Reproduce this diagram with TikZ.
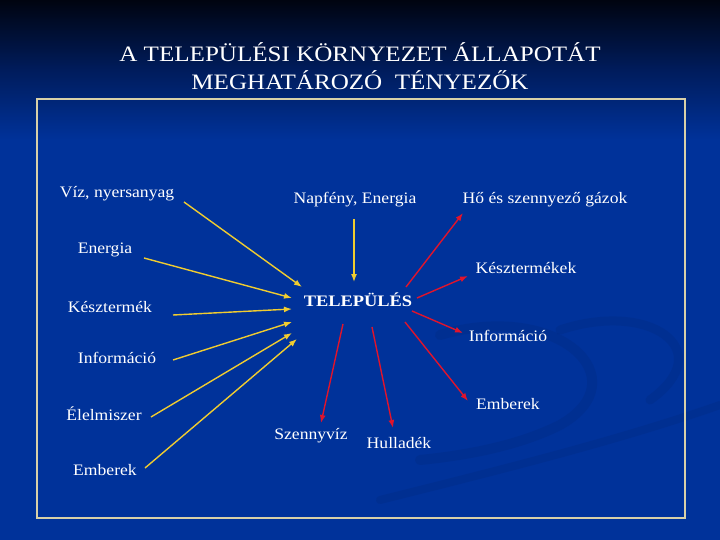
\documentclass[tikz,border=0pt]{standalone}
\usepackage{fontspec}
\setmainfont{Liberation Serif}
\usetikzlibrary{arrows.meta}
\definecolor{bgtop}{HTML}{000410}
\definecolor{bgmid}{HTML}{001C5C}
\definecolor{bgblue}{HTML}{00329A}
\definecolor{swirl}{HTML}{00246E}
\definecolor{framecol}{HTML}{D8D0A8}
\definecolor{inarrow}{HTML}{F0CC30}
\definecolor{outarrow}{HTML}{E0142C}
\tikzset{
  lbl/.style={text=white, font=\fontsize{16}{18}\selectfont, inner sep=0pt, xscale=1.1},
  titletext/.style={text=white, font=\fontsize{22}{24}\selectfont, inner sep=0pt, xscale=1.14},
  centre/.style={text=white, font=\bfseries\fontsize{16}{19}\selectfont, inner sep=0pt, xscale=1.15},
  inflow/.style={draw=inarrow, line width=1.4pt, -{Latex[length=8pt,width=6pt]}},
  outflow/.style={draw=outarrow, line width=1.4pt, -{Latex[length=8pt,width=6pt]}},
  swirlband/.style={draw=swirl, opacity=0.2, line cap=round}
}
\begin{document}
\begin{tikzpicture}[x=1pt,y=-1pt]
\useasboundingbox (0,0) rectangle (720,540);
% background
\fill[bgblue] (0,0) rectangle (720,540);
\shade[top color=bgtop, bottom color=bgblue, middle color=bgmid] (0,0) rectangle (720,140);
% faint swirl
\draw[swirlband, line width=10pt] (440,335) .. controls (560,300) and (640,380) .. (560,425) .. controls (520,445) and (470,455) .. (420,460);
\draw[swirlband, line width=8pt] (380,500) .. controls (500,470) and (620,440) .. (720,405);
\draw[swirlband, line width=9pt] (560,330) .. controls (650,300) and (720,350) .. (650,400);
% frame
\draw[framecol, line width=1.2pt] (37,99) rectangle (685,518);
% title
\node[titletext] (t1) at (360,52) {A TELEPÜLÉSI KÖRNYEZET ÁLLAPOTÁT};
\node[titletext] (t2) at (360,80) {MEGHATÁROZÓ\ \ TÉNYEZŐK};
% centre
\node[centre] (T) at (358,300) {TELEPÜLÉS};
% inputs
\node[lbl] (viz) at (117,194) {Víz, nyersanyag};
\node[lbl] (napf) at (355,200) {Napfény, Energia};
\node[lbl] (energ) at (105,250) {Energia};
\node[lbl] (keszl) at (110,307) {Késztermék};
\node[lbl] (infl) at (117,358) {Információ};
\node[lbl] (elel) at (104,414) {Élelmiszer};
\node[lbl] (embl) at (105,470) {Emberek};
% outputs
\node[lbl] (ho) at (545,200) {Hő és szennyező gázok};
\node[lbl] (keszr) at (526,268) {Késztermékek};
\node[lbl] (infr) at (508,336) {Információ};
\node[lbl] (embr) at (508,404) {Emberek};
\node[lbl] (szenny) at (311,436) {Szennyvíz};
\node[lbl] (hull) at (399,443) {Hulladék};
% arrow end coordinates
\coordinate (vizS) at (184,202);   \coordinate (vizE) at (302,287);
\coordinate (napS) at (354,219);   \coordinate (napE) at (354,282);
\coordinate (enS) at (144,258);    \coordinate (enE) at (292,298);
\coordinate (kesS) at (173,315);   \coordinate (kesE) at (292,309);
\coordinate (inlS) at (173,360);   \coordinate (inlE) at (292,322);
\coordinate (elS) at (151,417);    \coordinate (elE) at (292,333);
\coordinate (emlS) at (145,468);   \coordinate (emlE) at (297,339);
\coordinate (hoS) at (406,287);    \coordinate (hoE) at (463,213);
\coordinate (krS) at (417,298);    \coordinate (krE) at (468,276);
\coordinate (irS) at (412,311);    \coordinate (irE) at (463,333);
\coordinate (erS) at (405,322);    \coordinate (erE) at (468,401);
\coordinate (szS) at (343,324);    \coordinate (szE) at (321,423);
\coordinate (huS) at (372,327);    \coordinate (huE) at (393,428);
% inflows
\draw[inflow] (vizS) -- (vizE);
\draw[inflow] (napS) -- (napE);
\draw[inflow] (enS) -- (enE);
\draw[inflow] (kesS) -- (kesE);
\draw[inflow] (inlS) -- (inlE);
\draw[inflow] (elS) -- (elE);
\draw[inflow] (emlS) -- (emlE);
% outflows
\draw[outflow] (hoS) -- (hoE);
\draw[outflow] (krS) -- (krE);
\draw[outflow] (irS) -- (irE);
\draw[outflow] (erS) -- (erE);
\draw[outflow] (szS) -- (szE);
\draw[outflow] (huS) -- (huE);
\end{tikzpicture}
\end{document}
